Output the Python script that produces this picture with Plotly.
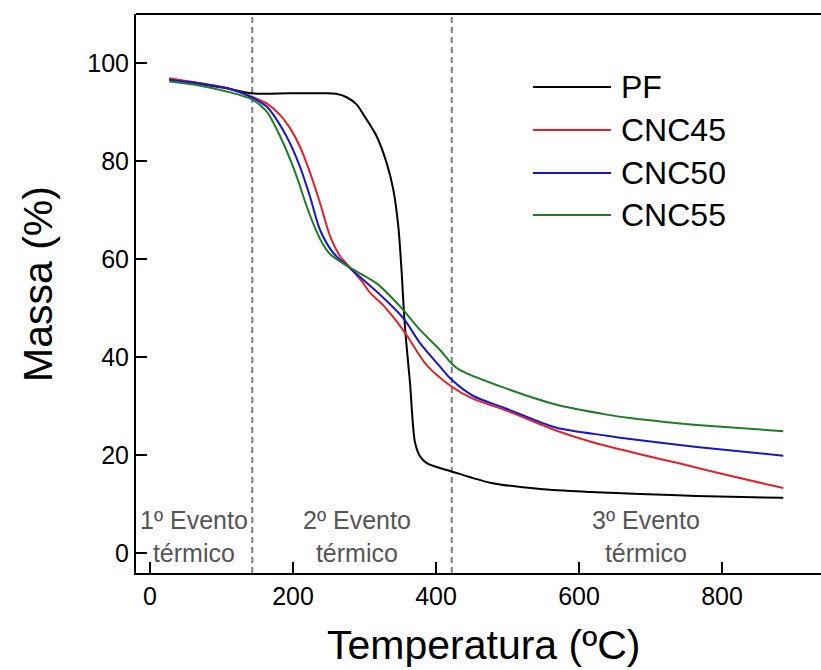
import plotly.graph_objects as go

# Thermogravimetric curves: temperature (ºC) vs remaining mass (%)
pf_temp = [27, 70, 112, 142, 196, 242, 260, 275, 289.1, 298.3, 317.1, 331.1, 340.3, 347.3, 352,
           355.2, 358, 363.6, 370.6, 377.6, 387, 405.6, 422, 475.5, 545.5, 615.4, 685.3, 764.6,
           885.7]
pf_mass = [96.8, 95.8, 94.8, 93.9, 93.9, 93.9, 93.8, 93.1, 91.6, 89.6, 85.1, 79.6, 74.2, 66.7, 57.2,
           49.0, 43.6, 34.8, 22.6, 19.8, 18.4, 17.4, 16.7, 14.4, 13.1, 12.5, 12.1, 11.7, 11.3]

cnc45_temp = [27, 65, 112, 142.7, 163.6, 181.8, 195.8, 209.8, 223.8, 237.8, 251.7, 265.7, 279.7,
              297.9, 307.7, 326.3, 335.7, 354.3, 361.3, 387, 422, 452.2, 498.9, 568.8, 615.4,
              685.3, 741.3, 811.2, 885.7]
cnc45_mass = [97.0, 96.1, 94.8, 93.2, 91.8, 89.5, 86.8, 83.0, 77.7, 71.5, 64.8, 60.7, 58.3,
              55.2, 53.2, 50.6, 49.0, 45.5, 44.0, 38.4, 34.0, 31.5, 29.1, 25.0, 22.8,
              20.2, 18.3, 15.8, 13.3]

cnc50_temp = [27, 65, 112, 142, 163, 191, 209.8, 223.8, 237.8, 256.4, 277.3, 321.7, 354.3, 377.6,
              405.6, 422, 452.2, 498.9, 568.8, 638.7, 671.3, 764.6, 885.7]
cnc50_mass = [96.6, 96.0, 94.8, 93.1, 91.2, 85.1, 78.9, 72.8, 66.0, 61.3, 58.5, 52.8, 48.0, 42.9,
              38.1, 35.4, 32.1, 29.5, 25.6, 24.0, 23.3, 21.7, 19.9]

cnc55_temp = [27, 65, 112, 142, 163, 186.4, 205.2, 219.2, 233.2, 240.6, 251.7, 277.3, 317, 349.7,
              377.6, 405.6, 422, 433.6, 498.9, 568.8, 638.7, 671.3, 720, 764.6, 885.7]
cnc55_mass = [96.3, 95.6, 94.1, 92.7, 90.2, 83.7, 76.9, 70.8, 65.6, 63.4, 61.1, 58.5, 55.1, 50.4,
              45.6, 41.5, 38.7, 37.4, 33.6, 30.3, 28.3, 27.6, 26.8, 26.2, 24.9]

series_names = ["PF", "CNC45", "CNC50", "CNC55"]
series_colors = ["#000000", "#e4202a", "#1717c8", "#1f7d27"]
series_temp = [pf_temp, cnc45_temp, cnc50_temp, cnc55_temp]
series_mass = [pf_mass, cnc45_mass, cnc50_mass, cnc55_mass]

# Boundaries between thermal events (ºC) and their labels
event_bounds = [143, 422]
event_labels = ["1º Evento<br>térmico", "2º Evento<br>térmico", "3º Evento<br>térmico"]
event_label_x = [61.5, 290, 694]
event_label_y = 3.4

x_ticks = [0, 200, 400, 600, 800]
y_ticks = [0, 20, 40, 60, 80, 100]

FONT = "Liberation Sans, Arial, sans-serif"
W, H = 821, 670
ML, MR, MT, MB = 136, 0, 14, 97
PW, PH = W - ML - MR, H - MT - MB


def px_x(px):
    return (px - ML) / PW


def px_y(py):
    return (H - MB - py) / PH


fig = go.Figure()
for name, color, t, m in zip(series_names, series_colors, series_temp, series_mass):
    fig.add_trace(go.Scatter(x=t, y=m, mode="lines", name=name,
                             line=dict(color=color, width=2, shape="spline", smoothing=0.8),
                             showlegend=False))

shapes = []
for xb in event_bounds:
    shapes.append(dict(type="line", xref="x", yref="paper", x0=xb, x1=xb, y0=0, y1=1,
                       line=dict(color="#7f7f7f", width=2, dash="6px,4px"), layer="below"))
# top frame line
shapes.append(dict(type="line", xref="paper", yref="paper", x0=0, x1=1, y0=1, y1=1,
                   line=dict(color="#000000", width=2)))

annotations = []
for txt, xa in zip(event_labels, event_label_x):
    annotations.append(dict(x=xa, y=event_label_y, xref="x", yref="y", text=txt, showarrow=False,
                            font=dict(family=FONT, size=25, color="#555555"),
                            xanchor="center", yanchor="middle", align="center"))

# legend drawn as line samples with labels
legend_rows = [87, 130, 173, 215]
for name, color, ry in zip(series_names, series_colors, legend_rows):
    shapes.append(dict(type="line", xref="paper", yref="paper", x0=px_x(533), x1=px_x(611),
                       y0=px_y(ry), y1=px_y(ry), line=dict(color=color, width=2)))
    annotations.append(dict(x=px_x(619), y=px_y(ry), xref="paper", yref="paper", text=name,
                            showarrow=False, xanchor="left", yanchor="middle",
                            font=dict(family=FONT, size=32, color="#000000")))

# axis titles
annotations.append(dict(x=px_x(484), y=0, xref="paper", yref="paper", yshift=-72,
                        text="Temperatura (ºC)", showarrow=False, xanchor="center",
                        yanchor="middle", font=dict(family=FONT, size=41, color="#000000")))
annotations.append(dict(x=0, y=px_y(284), xref="paper", yref="paper", xshift=-98, text="Massa (%)",
                        textangle=-90, showarrow=False, xanchor="center", yanchor="middle",
                        font=dict(family=FONT, size=41, color="#000000")))

fig.update_layout(
    width=W, height=H,
    margin=dict(l=ML, r=MR, t=MT, b=MB, pad=0),
    paper_bgcolor="white", plot_bgcolor="white",
    shapes=shapes, annotations=annotations,
    showlegend=False,
    font=dict(family=FONT, color="#000000"),
)
fig.update_xaxes(range=[-19.6, 938.4], tickvals=x_ticks, ticks="inside", ticklen=11, tickwidth=2,
                 tickcolor="black", showline=True, linecolor="black", linewidth=2, showgrid=False,
                 zeroline=False, tickfont=dict(family=FONT, size=25, color="black"))
fig.update_yaxes(range=[-4.04, 110.1], tickvals=y_ticks, ticks="inside", ticklen=11, tickwidth=2,
                 tickcolor="black", showline=True, linecolor="black", linewidth=2, showgrid=False,
                 zeroline=False, tickfont=dict(family=FONT, size=25, color="black"))

fig.write_html("out.html")
